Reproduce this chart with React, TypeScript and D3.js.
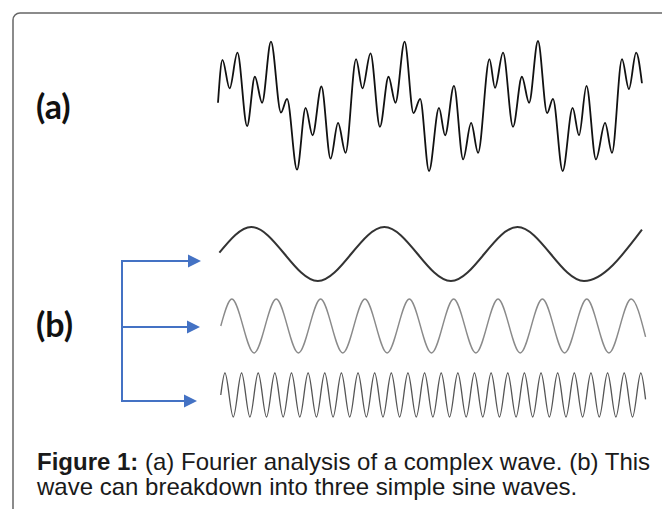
import React, { useEffect, useRef } from "react";
import * as d3 from "d3";

const WIDTH = 662;
const HEIGHT = 509;

// (a) complex wave - turning points
// t: 48 units = one period of the fundamental, v: relative amplitude (-1..1)
const complexT = [
  0, 1.6, 4.2, 7.0, 10.5, 13.3, 15.9, 19.1, 22.7, 24.9, 28.5, 31.6, 34.1, 37.3, 40.6, 43.3, 46.0, 49.8,
  52.1, 55.0, 58.4, 61.5, 64.0, 67.3, 70.5, 72.9, 76.1, 79.7, 81.9, 85.1, 88.4, 91.3, 93.8, 97.9, 99.9,
  102.8, 106.4, 109.6, 112.2, 115.4, 118.7, 120.8, 124.3, 127.9, 130.2, 132.9, 136.3, 139.6, 142.1, 145.7,
  148.2, 150.8, 152.9,
];
const complexV = [
  0.05, 0.71, 0.27, 0.82, -0.31, 0.45, 0.05, 0.99, -0.1, 0.11, -0.98, -0.03, -0.45, 0.3, -0.81, -0.26, -0.72, 0.72,
  0.27, 0.81, -0.32, 0.45, 0.05, 0.99, -0.11, 0.11, -1.0, -0.03, -0.45, 0.31, -0.82, -0.26, -0.72, 0.72, 0.28,
  0.82, -0.32, 0.45, 0.05, 1.0, -0.11, 0.11, -1.0, -0.03, -0.45, 0.31, -0.82, -0.26, -0.72, 0.72,
  0.26, 0.82, 0.35,
];

// (b) the three simple sine waves - turning points
const fundamentalT = [0.5, 12, 36, 60, 84, 108, 132, 152.9];
const fundamentalV = [0.05, 1, -1, 1, -1, 1, -1, 0.9];

const thirdT = [1, 5, 13, 21, 29, 37, 45, 53, 61, 69, 77, 85, 93, 101, 109, 117, 125, 133, 141, 149, 154.2];
const thirdV = [0, 1, -1, 1, -1, 1, -1, 1, -1, 1, -1, 1, -1, 1, -1, 1, -1, 1, -1, 1, -0.4];

const eighthT = [
  1, 2.5, 5.5, 8.5, 11.5, 14.5, 17.5, 20.5, 23.5, 26.5, 29.5, 32.5, 35.5, 38.5, 41.5, 44.5, 47.5, 50.5,
  53.5, 56.5, 59.5, 62.5, 65.5, 68.5, 71.5, 74.5, 77.5, 80.5, 83.5, 86.5, 89.5, 92.5, 95.5, 98.5, 101.5,
  104.5, 107.5, 110.5, 113.5, 116.5, 119.5, 122.5, 125.5, 128.5, 131.5, 134.5, 137.5, 140.5, 143.5, 146.5,
  149.5, 152.5, 154.2,
];
const eighthV = [
  0,
  1, -1, 1, -1, 1, -1, 1, -1, 1, -1,
  1, -1, 1, -1, 1, -1, 1, -1, 1, -1,
  1, -1, 1, -1, 1, -1, 1, -1, 1, -1,
  1, -1, 1, -1, 1, -1, 1, -1, 1, -1,
  1, -1, 1, -1, 1, -1, 1, -1, 1, -1,
  1,
  -0.2,
];

const panelLabels = ["(a)", "(b)"];
const captionBold = "Figure 1:";
const captionLines = [
  " (a) Fourier analysis of a complex wave. (b) This",
  "wave can breakdown into three simple sine waves.",
];

const BLUE = "#4472c4";

const App = () => {
  const ref = useRef<SVGSVGElement>(null);

  useEffect(() => {
    const svg = d3.select(ref.current);
    svg.selectAll("*").remove();

    const x = d3.scaleLinear().domain([0, 154]).range([218, 645]);

    // Frame (runs off the right and bottom edges)
    svg.append("rect")
      .attr("x", 13)
      .attr("y", 13)
      .attr("width", 720)
      .attr("height", 600)
      .attr("rx", 7)
      .attr("fill", "none")
      .attr("stroke", "#666")
      .attr("stroke-width", 1.5);

    // Waves
    const waves = [
      { t: complexT, v: complexV, range: [171, 41], stroke: "#111", width: 1.8 },
      { t: fundamentalT, v: fundamentalV, range: [281, 227], stroke: "#333", width: 2 },
      { t: thirdT, v: thirdV, range: [353, 299], stroke: "#8a8a8a", width: 1.4 },
      { t: eighthT, v: eighthV, range: [417, 373], stroke: "#555", width: 1.3 },
    ];

    waves.forEach(w => {
      const y = d3.scaleLinear().domain([-1, 1]).range(w.range);
      const line = d3.line<[number, number]>()
        .x(d => x(d[0]))
        .y(d => y(d[1]))
        .curve(d3.curveMonotoneX);
      svg.append("path")
        .attr("d", line(d3.zip(w.t, w.v) as [number, number][]))
        .attr("fill", "none")
        .attr("stroke", w.stroke)
        .attr("stroke-width", w.width)
        .attr("stroke-linejoin", "round");
    });

    // Arrows pointing at the three components
    const stemX = 122;
    const arrowY = [261, 327, 401];
    const tipX = [201, 200, 197];
    const head = 13;

    svg.append("path")
      .attr("d", `M${tipX[0] - head},${arrowY[0]}H${stemX}V${arrowY[2]}H${tipX[2] - head}M${stemX},${arrowY[1]}H${tipX[1] - head}`)
      .attr("fill", "none")
      .attr("stroke", BLUE)
      .attr("stroke-width", 2);

    svg.append("g")
      .selectAll("path")
      .data(arrowY)
      .join("path")
      .attr("d", (d, i) => `M${tipX[i]},${d}L${tipX[i] - head},${d - 6.5}L${tipX[i] - head},${d + 6.5}Z`)
      .attr("fill", BLUE);

    // Panel labels
    svg.selectAll("text.panel")
      .data(panelLabels)
      .join("text")
      .attr("class", "panel")
      .attr("x", 36)
      .attr("y", (d, i) => (i === 0 ? 119 : 337))
      .attr("font-family", "Lato, 'Open Sans', sans-serif")
      .attr("font-weight", "bold")
      .attr("font-size", 34)
      .attr("fill", "#111")
      .text(d => d);

    // Caption
    const caption = svg.append("text")
      .attr("font-family", "'Liberation Sans', Arial, sans-serif")
      .attr("font-size", 24)
      .attr("fill", "#1a1a1a");

    caption.append("tspan")
      .attr("x", 37)
      .attr("y", 470)
      .attr("font-weight", "bold")
      .text(captionBold);
    caption.append("tspan")
      .style("white-space", "pre")
      .text(captionLines[0]);
    caption.append("tspan")
      .attr("x", 37)
      .attr("y", 495)
      .text(captionLines[1]);
  }, []);

  return (
    <svg
      ref={ref}
      width={WIDTH}
      height={HEIGHT}
      style={{ position: "absolute", left: 0, top: 0, background: "#fff" }}
    />
  );
};

export default App;
